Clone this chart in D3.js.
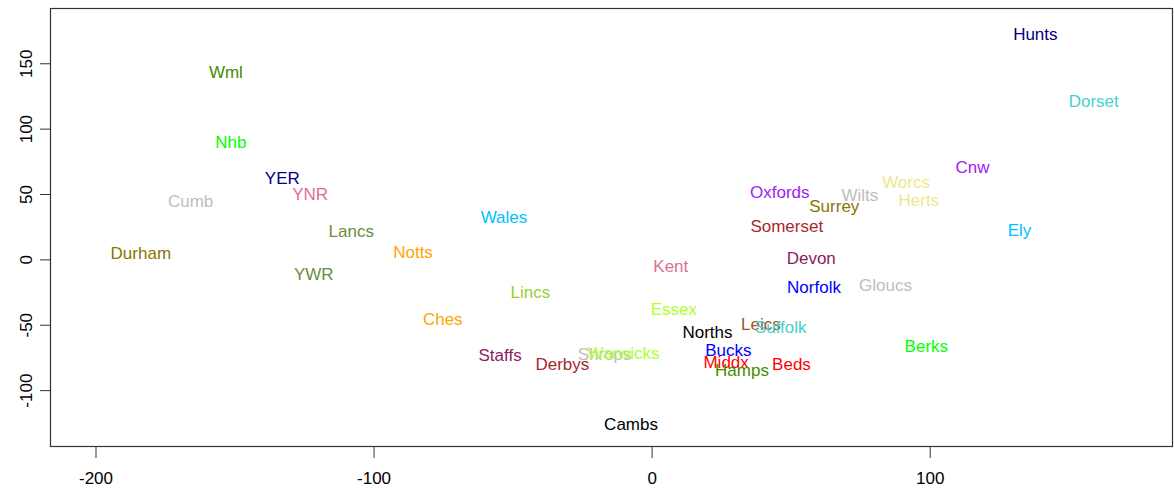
<!DOCTYPE html>
<html>
<head>
<meta charset="utf-8">
<script src="https://cdnjs.cloudflare.com/ajax/libs/d3/7.8.5/d3.min.js"></script>
<style>
  body { margin: 0; background: #fff; }
  svg text { font-family: "Liberation Sans", Arial, sans-serif; }
</style>
</head>
<body>
<div id="chart"></div>
<script>
var width = 1174;
var height = 488;
var margin = {left: 51, right: 1, top: 9, bottom: 41};

// county labels and their positions
var counties = ['Hunts', 'Dorset', 'Cnw', 'Worcs', 'Herts', 'Oxfords', 'Wilts', 'Surrey', 'Somerset', 'Ely',
    'Devon', 'Norfolk', 'Gloucs', 'Leics', 'Suffolk', 'Norths', 'Bucks', 'Middx', 'Hamps', 'Beds',
    'Berks', 'Wales', 'Notts', 'Kent', 'Lincs', 'Essex', 'Ches', 'Staffs', 'Derbys', 'Shrops',
    'Warwicks', 'Cambs', 'Wml', 'Nhb', 'YER', 'YNR', 'Cumb', 'Lancs', 'Durham', 'YWR'];
var xVals = [138.0, 159.0, 115.4, 91.5, 96.1, 46.1, 74.9, 65.7, 48.6, 132.3,
    57.4, 58.4, 84.1, 39.3, 46.4, 20.1, 27.6, 26.8, 32.5, 50.3,
    98.8, -53.1, -85.8, 6.9, -43.6, 8.0, -75.1, -54.5, -32.1, -16.9,
    -10.1, -7.4, -153.1, -151.3, -132.8, -122.8, -165.8, -108.0, -183.7, -121.5];
var yVals = [172.2, 121.0, 70.4, 59.1, 45.6, 51.5, 49.5, 40.6, 26.0, 22.4,
    1.0, -21.2, -19.3, -49.2, -51.8, -55.7, -69.1, -78.5, -84.6, -80.2,
    -66.1, 32.3, 5.4, -4.6, -25.2, -37.8, -45.8, -72.8, -79.8, -72.4,
    -71.6, -125.8, 143.2, 90.2, 62.5, 50.2, 45.1, 22.0, 5.0, -11.0];
var colours = ['#000080', '#48D1CC', '#A020F0', '#F0E68C', '#F0E68C', '#A020F0', '#BEBEBE', '#8B7500', '#A52A2A', '#00BFFF',
    '#8B1C62', '#0000FF', '#BEBEBE', '#A0522D', '#48D1CC', '#000000', '#0000FF', '#FF0000', '#458B00', '#FF0000',
    '#00FF00', '#00BFFF', '#FFA500', '#DB7093', '#9ACD32', '#ADFF2F', '#FFA500', '#8B1C62', '#A52A2A', '#BEBEBE',
    '#ADFF2F', '#000000', '#458B00', '#00FF00', '#000080', '#DB7093', '#BEBEBE', '#6E8B3D', '#8B7500', '#6E8B3D'];

var xTicks = [-200, -100, 0, 100];
var yTicks = [-100, -50, 0, 50, 100, 150];

var points = counties.map(function (d, i) {
    return {name: d, x: xVals[i], y: yVals[i], col: colours[i]};
});

var x = d3.scaleLinear().domain([-216, 187.5]).range([margin.left, width - margin.right]);
var y = d3.scaleLinear().domain([-143.5, 191.5]).range([height - margin.bottom, margin.top]);

var svg = d3.select('#chart').append('svg')
    .attr('width', width)
    .attr('height', height);

// box round the plot
svg.append('rect')
    .attr('x', margin.left - 0.5)
    .attr('y', margin.top - 0.5)
    .attr('width', width - margin.left - margin.right)
    .attr('height', height - margin.top - margin.bottom)
    .attr('fill', 'none')
    .attr('stroke', '#333')
    .attr('stroke-width', 1.2);

// plain hyphen for negatives, like R does
var fmt = function (d) { return String(d); };

var xAxis = svg.append('g')
    .attr('transform', 'translate(0,' + (height - margin.bottom) + ')')
    .call(d3.axisBottom(x).tickValues(xTicks).tickSize(11).tickPadding(14).tickFormat(fmt));
xAxis.select('.domain').remove();
xAxis.selectAll('text').attr('font-size', 17).attr('fill', '#000')
    .attr('font-family', '"Liberation Sans", Arial, sans-serif');
xAxis.selectAll('line').attr('stroke', '#333');

var yAxis = svg.append('g')
    .attr('transform', 'translate(' + margin.left + ',0)')
    .call(d3.axisLeft(y).tickValues(yTicks).tickSize(11).tickFormat(fmt));
yAxis.select('.domain').remove();
yAxis.selectAll('line').attr('stroke', '#333');
yAxis.selectAll('text')
    .attr('font-size', 17)
    .attr('fill', '#000')
    .attr('font-family', '"Liberation Sans", Arial, sans-serif')
    .attr('x', null)
    .attr('text-anchor', 'middle')
    .attr('transform', 'translate(-25,0) rotate(-90)')
    .attr('dy', '0.35em');

// the labels themselves
svg.append('g').selectAll('text')
    .data(points)
    .enter()
    .append('text')
    .attr('x', function (d) { return x(d.x); })
    .attr('y', function (d) { return y(d.y); })
    .attr('dy', '0.36em')
    .attr('text-anchor', 'middle')
    .attr('font-size', 17)
    .attr('fill', function (d) { return d.col; })
    .text(function (d) { return d.name; });
</script>
</body>
</html>
